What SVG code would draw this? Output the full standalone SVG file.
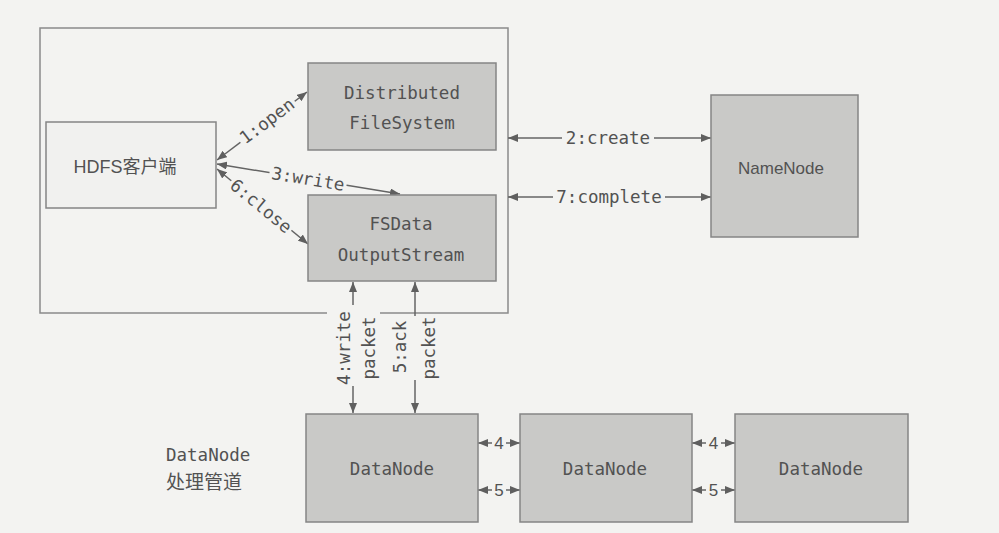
<svg xmlns="http://www.w3.org/2000/svg" width="999" height="533" viewBox="0 0 999 533">
<defs>
<marker id="ah" markerUnits="userSpaceOnUse" markerWidth="10" markerHeight="8" refX="10" refY="4" orient="auto-start-reverse">
<path d="M0,0 L10,4 L0,8 z" fill="#5f5f5f"/>
</marker>
<style>
.bg{fill:#f3f3f1}
.box{fill:#c9c9c7;stroke:#858585;stroke-width:1.5}
.wbox{fill:#f1f1ef;stroke:#858585;stroke-width:1.5}
.frame{fill:none;stroke:#8a8a8a;stroke-width:1.5}
.ln{stroke:#646464;stroke-width:1.5;fill:none;marker-start:url(#ah);marker-end:url(#ah)}
.mono{font-family:"DejaVu Sans Mono","Liberation Mono",monospace;font-size:17.5px;fill:#525252}
.sans{font-family:"Liberation Sans","Noto Sans CJK SC",sans-serif;fill:#525252}
.c{text-anchor:middle}
.mid{dominant-baseline:central}
</style>
</defs>
<rect x="0" y="0" width="999" height="533" class="bg"/>

<g id="client-container">
<rect x="40" y="28" width="468" height="285" class="frame"/>
</g>

<g id="connectors">
<line x1="217" y1="160" x2="307" y2="92" class="ln"/>
<line x1="217" y1="164" x2="400" y2="194" class="ln"/>
<line x1="217" y1="169" x2="308" y2="244" class="ln"/>
<line x1="508" y1="138" x2="711" y2="138" class="ln"/>
<line x1="508" y1="197" x2="711" y2="197" class="ln"/>
<line x1="353" y1="282" x2="353" y2="413" class="ln"/>
<line x1="415" y1="282" x2="415" y2="413" class="ln"/>
<line x1="478" y1="443" x2="520" y2="443" class="ln"/>
<line x1="478" y1="490" x2="520" y2="490" class="ln"/>
<line x1="692" y1="443" x2="735" y2="443" class="ln"/>
<line x1="692" y1="490" x2="735" y2="490" class="ln"/>

<g transform="translate(267,121) rotate(-37)">
<rect x="-34" y="-9" width="68" height="18" class="bg"/>
<text class="mono c mid" x="0" y="0">1:open</text>
</g>
<g transform="translate(308,179) rotate(9.3)">
<rect x="-39" y="-9" width="78" height="18" class="bg"/>
<text class="mono c mid" x="0" y="0">3:write</text>
</g>
<g transform="translate(261,206) rotate(39.5)">
<rect x="-39" y="-9" width="78" height="18" class="bg"/>
<text class="mono c mid" x="0" y="0">6:close</text>
</g>
<rect x="562" y="129" width="92" height="18" class="bg"/>
<text class="mono c mid" x="608" y="138">2:create</text>
<rect x="553" y="188" width="112" height="18" class="bg"/>
<text class="mono c mid" x="609" y="197">7:complete</text>

<rect x="327" y="305" width="53" height="81" class="bg"/>
<text class="mono c mid" transform="translate(343.5,348) rotate(-90)">4:write</text>
<text class="mono c mid" transform="translate(368.5,348) rotate(-90)">packet</text>
<rect x="390" y="316" width="48" height="64" class="bg"/>
<text class="mono c mid" transform="translate(399.5,347) rotate(-90)">5:ack</text>
<text class="mono c mid" transform="translate(428.5,348) rotate(-90)">packet</text>

<rect x="492" y="434" width="14" height="18" class="bg"/>
<text class="sans c mid" x="499" y="443" font-size="17">4</text>
<rect x="492" y="481" width="14" height="18" class="bg"/>
<text class="sans c mid" x="499" y="490" font-size="17">5</text>
<rect x="706" y="434" width="15" height="18" class="bg"/>
<text class="sans c mid" x="713.5" y="443" font-size="17">4</text>
<rect x="706" y="481" width="15" height="18" class="bg"/>
<text class="sans c mid" x="713.5" y="490" font-size="17">5</text>
</g>

<g id="hdfs-client">
<rect x="46" y="122" width="170" height="86" class="wbox"/>
<text class="sans c" x="125" y="173" font-size="18">HDFS客户端</text>
</g>

<g id="distributed-filesystem">
<rect x="308" y="63" width="188" height="87" class="box"/>
<text class="mono c" x="402" y="99">Distributed</text>
<text class="mono c" x="402" y="129">FileSystem</text>
</g>

<g id="fsdata-outputstream">
<rect x="308" y="195" width="188" height="86" class="box"/>
<text class="mono c" x="401" y="230">FSData</text>
<text class="mono c" x="401" y="261">OutputStream</text>
</g>

<g id="namenode">
<rect x="711" y="95" width="147" height="142" class="box"/>
<text class="sans c" x="781" y="174" font-size="17">NameNode</text>
</g>

<g id="datanode-1">
<rect x="306" y="414" width="172" height="108" class="box"/>
<text class="mono c" x="392" y="475">DataNode</text>
</g>

<g id="datanode-2">
<rect x="520" y="414" width="172" height="108" class="box"/>
<text class="mono c" x="605" y="475">DataNode</text>
</g>

<g id="datanode-3">
<rect x="735" y="414" width="173" height="108" class="box"/>
<text class="mono c" x="821" y="475">DataNode</text>
</g>

<g id="pipeline-label">
<text class="mono" x="166" y="461" font-size="16">DataNode</text>
<text x="166" y="489" font-size="19" style="font-family:'Noto Sans CJK SC',sans-serif;fill:#525252">处理管道</text>
</g>
</svg>
